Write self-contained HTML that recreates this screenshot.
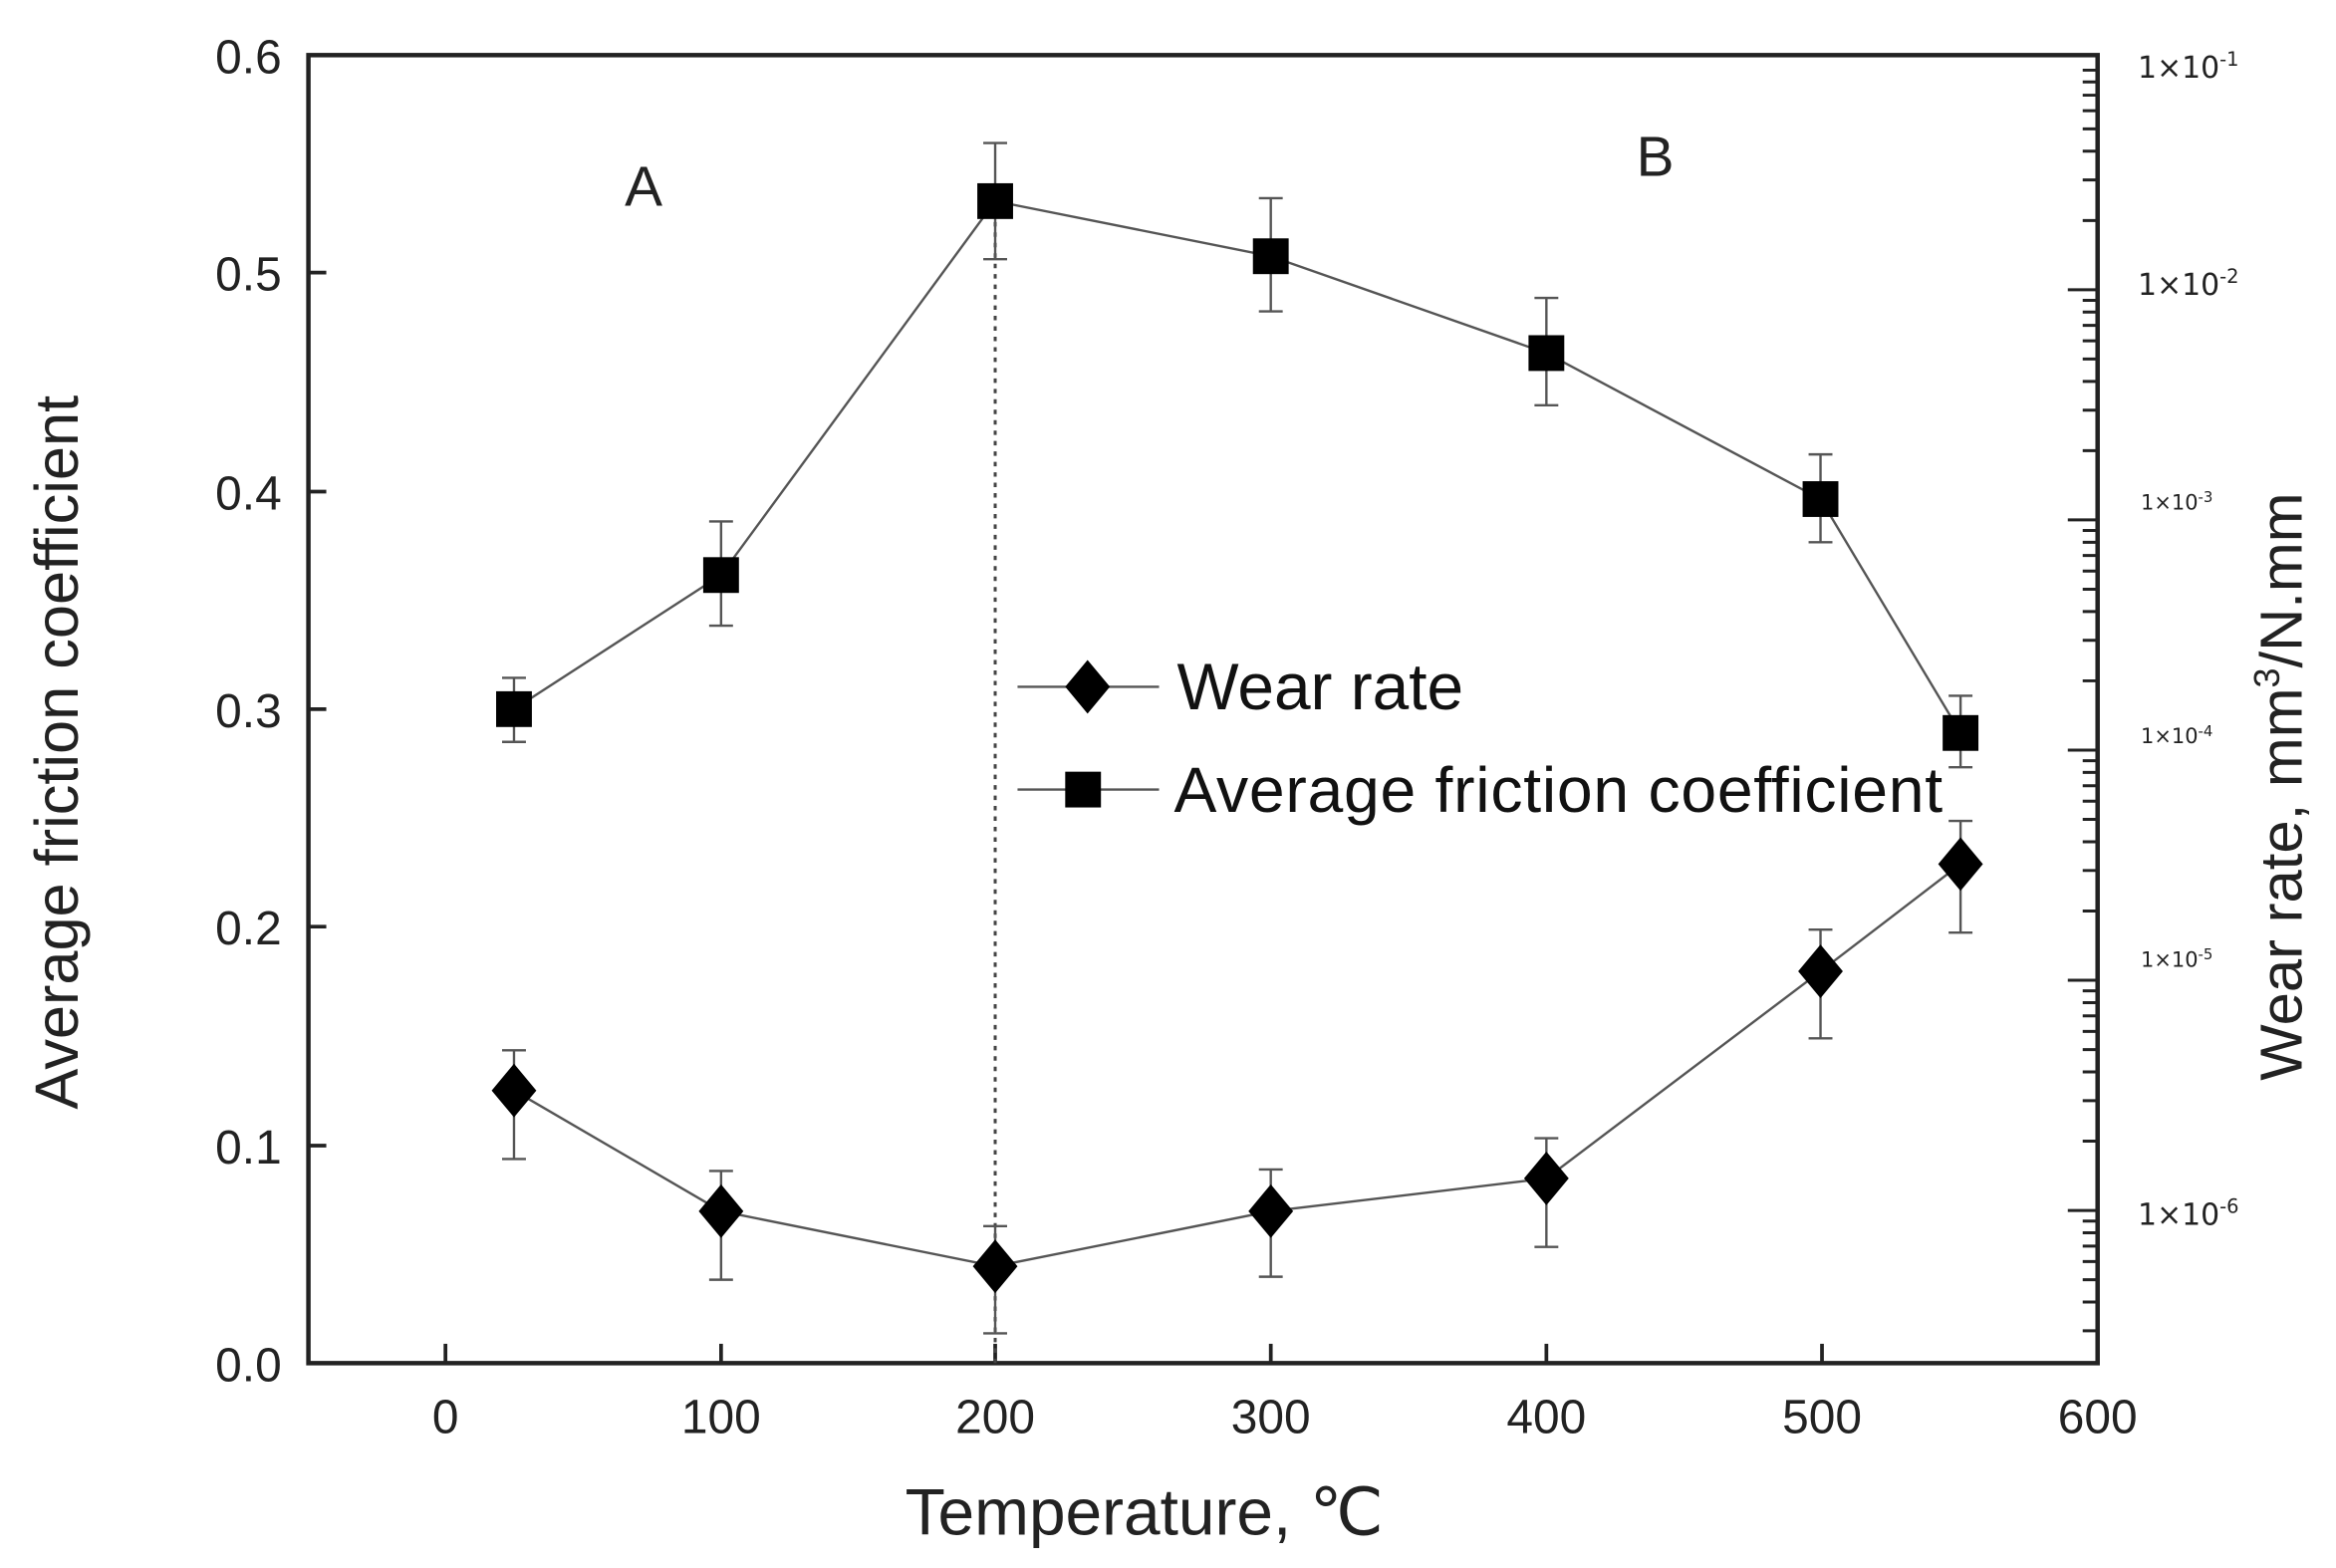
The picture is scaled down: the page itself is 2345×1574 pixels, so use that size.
<!DOCTYPE html>
<html><head><style>html,body{margin:0;padding:0;background:#fff}svg{display:block}</style></head>
<body>
<svg width="2345" height="1574" viewBox="0 0 1568 1052.5" xmlns="http://www.w3.org/2000/svg" font-family="Liberation Sans, sans-serif">
<rect width="1568" height="1053" fill="#fff"/>
<rect x="207" y="37" width="1201" height="878" fill="none" stroke="#222" stroke-width="3"/>
<g stroke="#222" stroke-width="2.5">
<line x1="207" y1="183" x2="219" y2="183"/><line x1="207" y1="330" x2="219" y2="330"/>
<line x1="207" y1="476" x2="219" y2="476"/><line x1="207" y1="622" x2="219" y2="622"/>
<line x1="207" y1="769" x2="219" y2="769"/>
<line x1="299" y1="915" x2="299" y2="902"/><line x1="484" y1="915" x2="484" y2="902"/>
<line x1="668" y1="915" x2="668" y2="902"/><line x1="853" y1="915" x2="853" y2="902"/>
<line x1="1038" y1="915" x2="1038" y2="902"/><line x1="1223" y1="915" x2="1223" y2="902"/>
</g>
<g stroke="#222" stroke-width="2">
<path d="M1388,194.5h20M1388,349h20M1388,503.5h20M1388,658h20M1388,812.5h20"/>
<path d="M1398,47.1h10M1398,55h10M1398,63.9h10M1398,74.3h10M1398,86.5h10M1398,101.5h10M1398,120.8h10M1398,148h10"/>
<path d="M1398,201.6h10M1398,209.5h10M1398,218.4h10M1398,228.8h10M1398,241h10M1398,256h10M1398,275.3h10M1398,302.5h10"/>
<path d="M1398,356.1h10M1398,364h10M1398,372.9h10M1398,383.3h10M1398,395.5h10M1398,410.5h10M1398,429.8h10M1398,457h10"/>
<path d="M1398,510.6h10M1398,518.5h10M1398,527.4h10M1398,537.8h10M1398,550h10M1398,565h10M1398,584.3h10M1398,611.5h10"/>
<path d="M1398,665.1h10M1398,673h10M1398,681.9h10M1398,692.3h10M1398,704.5h10M1398,719.5h10M1398,738.8h10M1398,766h10"/>
<path d="M1398,819.6h10M1398,827.5h10M1398,836.4h10M1398,846.8h10M1398,859h10M1398,874h10M1398,893.3h10"/>
</g>
<g font-size="32" fill="#222" text-anchor="end">
<text x="189" y="49">0.6</text><text x="189" y="195">0.5</text><text x="189" y="342">0.4</text>
<text x="189" y="488">0.3</text><text x="189" y="634">0.2</text><text x="189" y="781">0.1</text><text x="189" y="927">0.0</text>
</g>
<g font-size="32" fill="#222" text-anchor="middle">
<text x="299" y="962">0</text><text x="484" y="962">100</text><text x="668" y="962">200</text>
<text x="853" y="962">300</text><text x="1038" y="962">400</text><text x="1223" y="962">500</text><text x="1408" y="962">600</text>
</g>
<g fill="#222" font-family="DejaVu Sans, sans-serif">
<text x="1435" y="52" font-size="20">1×10<tspan font-size="13" dy="-8">-1</tspan></text>
<text x="1435" y="198" font-size="20">1×10<tspan font-size="13" dy="-8">-2</tspan></text>
<text x="1437" y="342" font-size="14">1×10<tspan font-size="10" dy="-5">-3</tspan></text>
<text x="1437" y="499" font-size="14">1×10<tspan font-size="10" dy="-5">-4</tspan></text>
<text x="1437" y="649" font-size="14">1×10<tspan font-size="10" dy="-5">-5</tspan></text>
<text x="1435" y="822" font-size="20">1×10<tspan font-size="13" dy="-8">-6</tspan></text>
</g>
<text x="768" y="1030" font-size="44" fill="#222" text-anchor="middle">Temperature,  ℃</text>
<text transform="translate(52,505) rotate(-90)" font-size="41" fill="#222" text-anchor="middle">Average friction coefficient</text>
<text transform="translate(1545,528) rotate(-90)" font-size="40" fill="#222" text-anchor="middle">Wear rate, mm<tspan font-size="24" dy="-15">3</tspan><tspan dy="15">/N.mm</tspan></text>
<text x="432" y="138" font-size="38" fill="#222" text-anchor="middle">A</text>
<text x="1111" y="118" font-size="38" fill="#222" text-anchor="middle">B</text>
<line x1="668" y1="135" x2="668" y2="915" stroke="#444" stroke-width="2" stroke-dasharray="3,4"/>
<g stroke="#555" stroke-width="1.6" fill="none">
<polyline points="345,476 484,386 668,135 853,172 1038,237 1222,335 1316,492"/>
<polyline points="345,732 484,813 668,850 853,813 1038,791 1222,652 1316,580"/>
<path d="M345,455V498M484,350V420M668,96V174M853,133V209M1038,200V272M1222,305V364M1316,467V515M345,705V778M484,786V859M668,823V895M853,785V857M1038,764V837M1222,624V697M1316,551V626"/>
<path d="M337,455h16M337,498h16M476,350h16M476,420h16M660,96h16M660,174h16M845,133h16M845,209h16M1030,200h16M1030,272h16M1214,305h16M1214,364h16M1308,467h16M1308,515h16M337,705h16M337,778h16M476,786h16M476,859h16M660,823h16M660,895h16M845,785h16M845,857h16M1030,764h16M1030,837h16M1214,624h16M1214,697h16M1308,551h16M1308,626h16"/>
<line x1="683" y1="461" x2="778" y2="461"/><line x1="683" y1="530" x2="778" y2="530"/>
</g>
<g fill="#000">
<rect x="333" y="464" width="24" height="24"/><rect x="472" y="374" width="24" height="24"/>
<rect x="656" y="123" width="24" height="24"/><rect x="841" y="160" width="24" height="24"/>
<rect x="1026" y="225" width="24" height="24"/><rect x="1210" y="323" width="24" height="24"/>
<rect x="1304" y="480" width="24" height="24"/><rect x="715" y="518" width="24" height="24"/>
<path d="M345,714l15,18l-15,18l-15,-18zM484,795l15,18l-15,18l-15,-18zM668,832l15,18l-15,18l-15,-18zM853,795l15,18l-15,18l-15,-18zM1038,773l15,18l-15,18l-15,-18zM1222,634l15,18l-15,18l-15,-18zM1316,562l15,18l-15,18l-15,-18zM730,443l15,18l-15,18l-15,-18z"/>
</g>
<text x="790" y="476" font-size="44" fill="#111">Wear rate</text>
<text x="788" y="545" font-size="43" fill="#111" textLength="516">Average friction coefficient</text>
</svg>
</body></html>
